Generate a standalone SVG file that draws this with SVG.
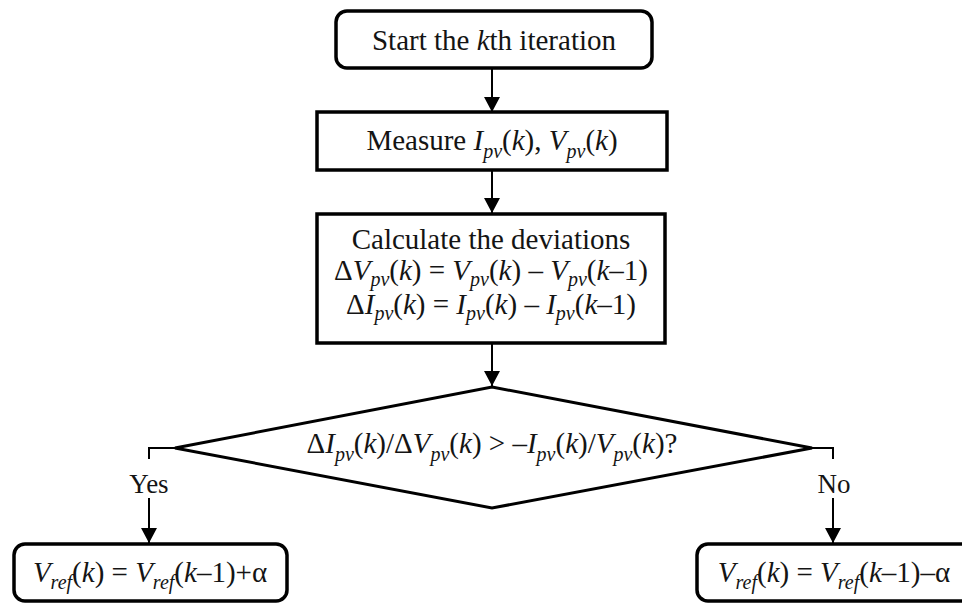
<svg xmlns="http://www.w3.org/2000/svg" width="962" height="603" viewBox="0 0 962 603">
  <style>
    .box { fill: #ffffff; stroke: #000000; stroke-width: 3.5; }
    .dia { fill: #ffffff; stroke: #000000; stroke-width: 3; stroke-linejoin: miter; }
    .con { fill: none; stroke: #000000; stroke-width: 2; }
    .head { fill: #000000; }
    text { font-family: "Liberation Serif", "DejaVu Serif", serif; font-size: 29px; fill: #141414; text-anchor: middle; }
    .i { font-style: italic; }
    .s { font-style: italic; font-size: 20px; }
    .lbl { font-size: 27px; }
  </style>
  <rect width="962" height="603" fill="#ffffff"/>

  <g id="connectors">
    <line class="con" x1="492" y1="68" x2="492" y2="112"/>
    <path class="head" d="M484,97 L500,97 L492,112 Z"/>
    <line class="con" x1="492" y1="170" x2="492" y2="213"/>
    <path class="head" d="M484,198 L500,198 L492,213 Z"/>
    <line class="con" x1="492" y1="343" x2="492" y2="386"/>
    <path class="head" d="M484,371 L500,371 L492,386 Z"/>
    <polyline class="con" points="175,448 149,448 149,459"/>
    <line class="con" x1="149" y1="498" x2="149" y2="543"/>
    <path class="head" d="M141,528 L157,528 L149,543 Z"/>
    <polyline class="con" points="812,448 833,448 833,459"/>
    <line class="con" x1="833" y1="498" x2="833" y2="543"/>
    <path class="head" d="M825,528 L841,528 L833,543 Z"/>
    <text class="lbl" x="149" y="493">Yes</text>
    <text class="lbl" x="834" y="493">No</text>
  </g>

  <g id="start">
    <rect class="box" x="336" y="11" width="316" height="57" rx="11"/>
    <text x="494" y="50">Start the <tspan class="i">k</tspan>th iteration</text>
  </g>

  <g id="measure">
    <rect class="box" x="317" y="112" width="350" height="58"/>
    <text x="492" y="150">Measure <tspan class="i">I</tspan><tspan class="s" dy="8">pv</tspan><tspan dy="-8">(</tspan><tspan class="i">k</tspan>), <tspan class="i">V</tspan><tspan class="s" dy="8">pv</tspan><tspan dy="-8">(</tspan><tspan class="i">k</tspan>)</text>
  </g>

  <g id="calculate">
    <rect class="box" x="317" y="214" width="348" height="129"/>
    <text x="491" y="249">Calculate the deviations</text>
    <text x="491" y="280">Δ<tspan class="i">V</tspan><tspan class="s" dy="6">pv</tspan><tspan dy="-6">(</tspan><tspan class="i">k</tspan>) = <tspan class="i">V</tspan><tspan class="s" dy="6">pv</tspan><tspan dy="-6">(</tspan><tspan class="i">k</tspan>) – <tspan class="i">V</tspan><tspan class="s" dy="6">pv</tspan><tspan dy="-6">(</tspan><tspan class="i">k</tspan>–1)</text>
    <text x="491" y="314">Δ<tspan class="i">I</tspan><tspan class="s" dy="6">pv</tspan><tspan dy="-6">(</tspan><tspan class="i">k</tspan>) = <tspan class="i">I</tspan><tspan class="s" dy="6">pv</tspan><tspan dy="-6">(</tspan><tspan class="i">k</tspan>) – <tspan class="i">I</tspan><tspan class="s" dy="6">pv</tspan><tspan dy="-6">(</tspan><tspan class="i">k</tspan>–1)</text>
  </g>

  <g id="decision">
    <polygon class="dia" points="492,387 812,448 492,508 175,448"/>
    <text x="492" y="453">Δ<tspan class="i">I</tspan><tspan class="s" dy="8">pv</tspan><tspan dy="-8">(</tspan><tspan class="i">k</tspan>)/Δ<tspan class="i">V</tspan><tspan class="s" dy="8">pv</tspan><tspan dy="-8">(</tspan><tspan class="i">k</tspan>) &gt; –<tspan class="i">I</tspan><tspan class="s" dy="8">pv</tspan><tspan dy="-8">(</tspan><tspan class="i">k</tspan>)/<tspan class="i">V</tspan><tspan class="s" dy="8">pv</tspan><tspan dy="-8">(</tspan><tspan class="i">k</tspan>)?</text>
  </g>

  <g id="yes-box">
    <rect class="box" x="14" y="544" width="273" height="57" rx="11"/>
    <text x="150" y="582"><tspan class="i">V</tspan><tspan class="s" dy="7">ref</tspan><tspan dy="-7">(</tspan><tspan class="i">k</tspan>) = <tspan class="i">V</tspan><tspan class="s" dy="7">ref</tspan><tspan dy="-7">(</tspan><tspan class="i">k</tspan>–1)+α</text>
  </g>

  <g id="no-box">
    <rect class="box" x="697" y="544" width="280" height="57" rx="11"/>
    <text x="834" y="582"><tspan class="i">V</tspan><tspan class="s" dy="7">ref</tspan><tspan dy="-7">(</tspan><tspan class="i">k</tspan>) = <tspan class="i">V</tspan><tspan class="s" dy="7">ref</tspan><tspan dy="-7">(</tspan><tspan class="i">k</tspan>–1)–α</text>
  </g>
</svg>
